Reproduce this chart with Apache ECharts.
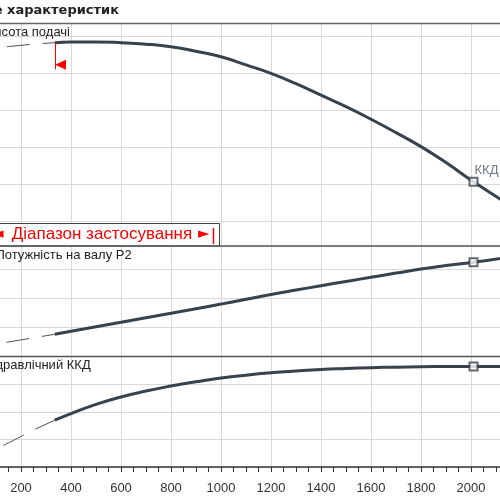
<!DOCTYPE html>
<html>
<head>
<meta charset="utf-8">
<script src="https://cdn.jsdelivr.net/npm/echarts@6/dist/echarts.min.js"></script>
<style>
  html, body { margin: 0; padding: 0; background: #fff; }
  #chart { width: 500px; height: 500px; }
</style>
</head>
<body>
<div id="chart"></div>
<script>
// подача Q (робоча частина кривих)
const flow = [335, 400, 500, 600, 700, 800, 900, 1000, 1100, 1200, 1300, 1400, 1500, 1600, 1700, 1800, 1900, 2010, 2200]
const head = [48.2, 48.35, 48.4, 48.2, 47.8, 47.1, 45.9, 44.4, 42.2, 39.9, 37.1, 34.0, 30.9, 27.5, 23.9, 20.1, 15.8, 10.6, 2.4]
const power = [38.2, 43.3, 51.1, 58.8, 66.6, 74.3, 82.2, 90.1, 98.4, 106.6, 114.2, 121.7, 129.0, 136.2, 143.4, 150.5, 156.3, 162.0, 174.0]
const eff = [33.9, 38.7, 45.3, 50.7, 55.0, 58.6, 61.7, 64.4, 66.5, 68.2, 69.5, 70.6, 71.3, 71.9, 72.3, 72.6, 72.75, 72.8, 72.7]

// пунктир поза діапазоном
const flowExt = [0, 50, 150, 250, 335]
const headExt = [46.0, 46.4, 47.15, 47.8, 48.2]
const powerExt = [14.2, 17.8, 25.0, 32.1, 38.2]
const effExt = [4.1, 8.6, 17.5, 26.8, 33.9]

// робоча точка (ККД)
const dutyFlow = 2010
const dutyHead = 10.6
const dutyPower = 162.0
const dutyEff = 72.8

// початок діапазону застосування
const rangeStart = 335
const rangeMarkTop = 48.2
const rangeMarkBottom = 41.0
const rangeArrow = [358, 42.2]

const xMin = 0, xMax = 2200, xStep = 200

const lineColor = '#38424c'
const gridColor = '#d9d9d9'
const font = "'Liberation Sans', Arial, sans-serif"

function pairs(xs, ys) {
  return xs.map((x, i) => [x, ys[i]])
}

const chart = echarts.init(document.getElementById('chart'), null, { renderer: 'canvas' })

function gridAt(top, height) {
  return { left: -29, right: -21, top: top, height: height, containLabel: false, outerBoundsMode: 'none' }
}

function xAxisBase(gridIndex) {
  return {
    type: 'value', gridIndex: gridIndex, min: xMin, max: xMax, interval: xStep,
    axisLine: { show: false }, axisTick: { show: false }, axisLabel: { show: false },
    splitLine: { show: true, lineStyle: { color: gridColor, width: 1 } }
  }
}

function yAxisBase(gridIndex, max, interval) {
  return {
    type: 'value', gridIndex: gridIndex, min: 0, max: max, interval: interval,
    axisLine: { show: false }, axisTick: { show: false }, axisLabel: { show: false },
    splitLine: { show: true, lineStyle: { color: gridColor, width: 1 } }
  }
}

function extSeries(axis, ys) {
  return {
    type: 'line', xAxisIndex: axis, yAxisIndex: axis,
    data: pairs(flowExt, ys), symbol: 'none', smooth: false,
    lineStyle: { color: '#4b535b', width: 1, type: [23, 13] }
  }
}

function mainSeries(axis, ys, extra) {
  return Object.assign({
    type: 'line', xAxisIndex: axis, yAxisIndex: axis,
    data: pairs(flow, ys), symbol: 'none', smooth: true,
    lineStyle: { color: lineColor, width: 3 }
  }, extra || {})
}

function dutySeries(axis, y, label) {
  return {
    type: 'scatter', xAxisIndex: axis, yAxisIndex: axis,
    data: [[dutyFlow, y]], symbol: 'rect', symbolSize: 8, z: 5,
    itemStyle: { color: '#fff', borderColor: lineColor, borderWidth: 2 },
    label: label ? {
      show: true, formatter: label, position: [6, -6], align: 'left', verticalAlign: 'middle',
      color: '#4a5560', fontSize: 13, fontFamily: font
    } : { show: false }
  }
}

function hline(y, color, width) {
  return {
    type: 'line', z: 60, silent: true,
    shape: { x1: 0, y1: y, x2: 500, y2: y },
    style: { stroke: color, lineWidth: width }
  }
}

function label(text, x, y, opts) {
  return Object.assign({
    type: 'text', x: x, y: y, z: 60, silent: true,
    style: {
      text: text, fill: '#222', font: '13px ' + font,
      align: 'right', verticalAlign: 'middle', textAlign: 'right', textVerticalAlign: 'middle'
    }
  }, opts || {})
}

chart.setOption({
  animation: false,
  backgroundColor: '#fff',
  grid: [
    gridAt(23.5, 222.5),   // рамка: висота подачі
    gridAt(23.5, 197.5),   // дані: висота подачі
    gridAt(246, 110.5),    // потужність
    gridAt(356.5, 110.5)   // ККД
  ],
  xAxis: [
    xAxisBase(0),
    Object.assign(xAxisBase(1), { show: false }),
    xAxisBase(2),
    Object.assign(xAxisBase(3), {
      position: 'bottom',
      axisLine: { show: true, lineStyle: { color: '#333', width: 1.5 } },
      axisTick: { show: true, length: 5, lineStyle: { color: '#333', width: 1 } },
      minorTick: { show: true, splitNumber: 4, length: 5, lineStyle: { color: '#333', width: 1 } },
      axisLabel: { show: true, margin: 15, fontSize: 13, fontFamily: font, color: '#333',
        formatter: v => String(v) }
    })
  ],
  yAxis: [
    { type: 'value', gridIndex: 0, min: 0, max: 1, show: false },
    yAxisBase(1, 53.38, 10),
    yAxisBase(2, 190, 50),
    yAxisBase(3, 80, 20)
  ],
  series: [
    extSeries(1, headExt),
    mainSeries(1, head, {
      markLine: {
        silent: true, symbol: ['none', 'none'], label: { show: false },
        lineStyle: { color: '#ff0000', width: 1, type: 'solid' },
        data: [[{ coord: [rangeStart, rangeMarkTop] }, { coord: [rangeStart, rangeMarkBottom] }]]
      },
      markPoint: {
        silent: true, symbol: 'triangle', symbolSize: [10, 11], symbolRotate: 90,
        itemStyle: { color: '#ff0000' }, label: { show: false },
        data: [{ coord: rangeArrow }]
      }
    }),
    dutySeries(1, dutyHead, 'ККД'),
    extSeries(2, powerExt),
    mainSeries(2, power),
    dutySeries(2, dutyPower),
    extSeries(3, effExt),
    mainSeries(3, eff),
    dutySeries(3, dutyEff)
  ],
  graphic: [
    hline(23.5, '#666', 1.7),
    hline(246, '#555', 1.5),
    hline(356.5, '#555', 1.5),
    label('Поле характеристик', 119, 10.5, {
      style: { text: 'Поле характеристик', fill: '#222', font: "bold 13px 'DejaVu Sans', sans-serif",
        align: 'right', verticalAlign: 'middle', textAlign: 'right', textVerticalAlign: 'middle' }
    }),
    label('Висота подачі', 70, 32.5),
    label('Потужність на валу P2', 131.7, 255),
    label('Гідравлічний ККД', 90.7, 365.7),
    // легенда діапазону застосування
    {
      type: 'rect', z: 50, silent: true,
      shape: { x: -5, y: 223.5, width: 224.5, height: 22.5 },
      style: { fill: '#fff', stroke: '#444', lineWidth: 1 }
    },
    {
      type: 'text', x: 11.7, y: 234.5, z: 61, silent: true,
      style: { text: 'Діапазон застосування', fill: '#ff0000', font: '17px ' + font,
        align: 'left', verticalAlign: 'middle', textAlign: 'left', textVerticalAlign: 'middle' }
    },
    {
      type: 'text', x: 3.5, y: 234.5, z: 61, silent: true,
      style: { text: '◄', fill: '#ff0000', font: "15px 'DejaVu Sans', sans-serif",
        align: 'right', verticalAlign: 'middle', textAlign: 'right', textVerticalAlign: 'middle' }
    },
    {
      type: 'text', x: 198, y: 234.5, z: 61, silent: true,
      style: { text: '►', fill: '#ff0000', font: "15px 'DejaVu Sans', sans-serif",
        align: 'left', verticalAlign: 'middle', textAlign: 'left', textVerticalAlign: 'middle' }
    },
    {
      type: 'line', z: 61, silent: true,
      shape: { x1: 213.5, y1: 228, x2: 213.5, y2: 244 },
      style: { stroke: '#ff0000', lineWidth: 1.5 }
    }
  ]
})
</script>
</body>
</html>
